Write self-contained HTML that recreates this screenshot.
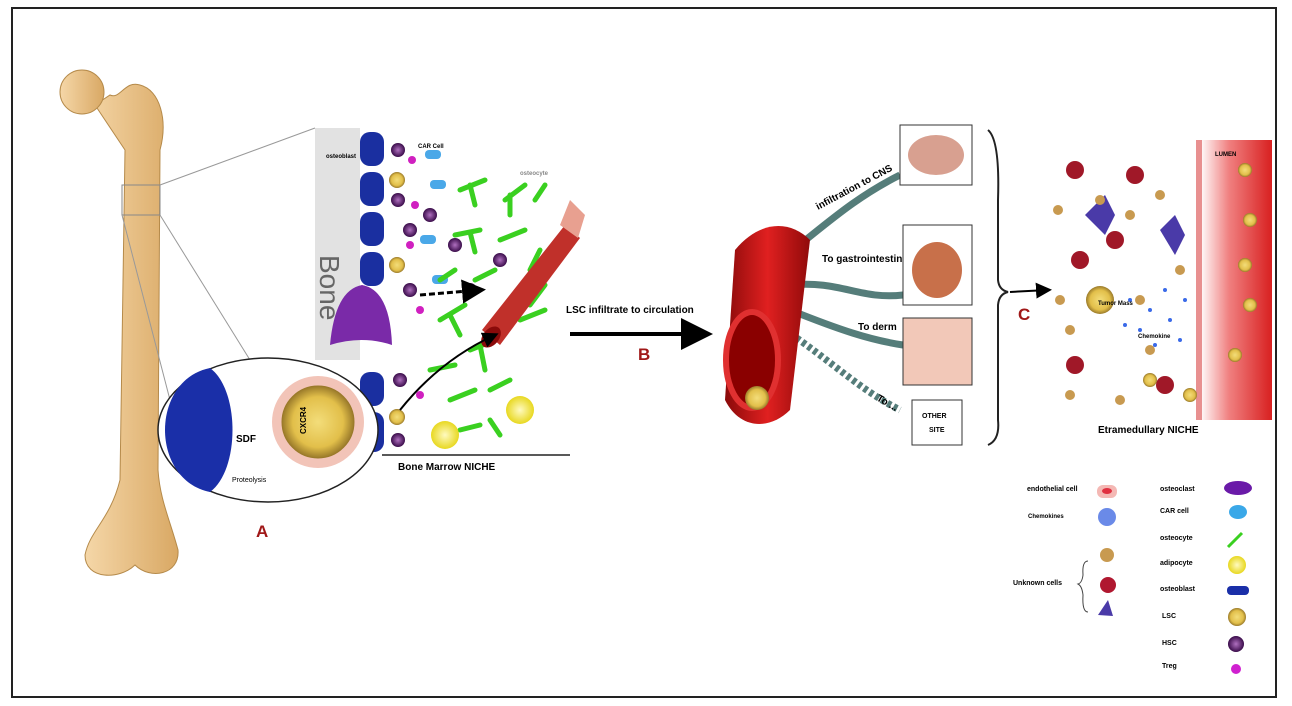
<!DOCTYPE html><html><head><style>body{margin:0;background:#fff}svg{display:block}text{font-family:"Liberation Sans",sans-serif;font-weight:bold}</style></head><body>
<svg width="1292" height="706" viewBox="0 0 1292 706">
<defs>
<radialGradient id="lsc"><stop offset="0" stop-color="#f3dd7a"/><stop offset=".7" stop-color="#e2bf4a"/><stop offset="1" stop-color="#9a7a2a"/></radialGradient>
<radialGradient id="hsc"><stop offset="0" stop-color="#b070c0"/><stop offset="1" stop-color="#3a0c4a"/></radialGradient>
<radialGradient id="adi"><stop offset="0" stop-color="#fffac0"/><stop offset="1" stop-color="#e8d820"/></radialGradient>
<linearGradient id="lum" x1="0" x2="1"><stop offset="0" stop-color="#fff"/><stop offset=".4" stop-color="#f08080"/><stop offset="1" stop-color="#d82020"/></linearGradient>
<linearGradient id="ves" x1="0" x2="1"><stop offset="0" stop-color="#8a0a0a"/><stop offset=".5" stop-color="#e02020"/><stop offset="1" stop-color="#900a0a"/></linearGradient>
<linearGradient id="bg" x1="0" x2="1"><stop offset="0" stop-color="#f5d7a8"/><stop offset="1" stop-color="#d9a864"/></linearGradient>
<marker id="ah" markerWidth="8" markerHeight="8" refX="6" refY="4" orient="auto"><path d="M0,0L8,4L0,8z" fill="#000"/></marker>
</defs>
<rect x="12" y="8" width="1264" height="689" fill="#fff" stroke="#222" stroke-width="2"/>
<g fill="url(#bg)" stroke="#b58a4a">
<path d="M95,105 L125,150 L120,480 C110,520 90,530 85,555 C85,580 120,580 135,565 C150,580 180,575 178,550 C170,520 160,500 158,470 L160,150 C168,120 160,90 140,85 C125,80 120,100 110,95Z"/>
<circle cx="82" cy="92" r="22"/>
</g>
<rect x="122" y="185" width="38" height="30" fill="none" stroke="#888"/>
<line x1="160" y1="185" x2="315" y2="128" stroke="#999"/><line x1="160" y1="215" x2="250" y2="360" stroke="#999"/><line x1="122" y1="215" x2="170" y2="400" stroke="#999"/>
<rect x="315" y="128" width="45" height="232" fill="#e2e2e2"/>
<text font-size="28" style="font-weight:normal" fill="#666" transform="translate(320,255) rotate(90)">Bone</text>
<g fill="#1a2fa0">
<rect x="360" y="132" width="24" height="34" rx="10"/><rect x="360" y="172" width="24" height="34" rx="10"/><rect x="360" y="212" width="24" height="34" rx="10"/><rect x="360" y="252" width="24" height="34" rx="10"/><rect x="360" y="372" width="24" height="34" rx="10"/><rect x="360" y="412" width="24" height="40" rx="10"/>
</g>
<path d="M330,345 Q335,290 362,285 Q390,290 392,345 Q362,335 330,345Z" fill="#7a2aa8"/>
<line x1="382" y1="455" x2="570" y2="455" stroke="#222" stroke-width="1.5"/>
<text x="398" y="470" font-size="10">Bone Marrow NICHE</text>
<text x="326" y="158" font-size="6">osteoblast</text><text x="418" y="148" font-size="6">CAR Cell</text><text x="520" y="175" font-size="6" fill="#888">osteocyte</text>
<g fill="url(#hsc)"><circle cx="398" cy="150" r="7"/><circle cx="398" cy="200" r="7"/><circle cx="410" cy="230" r="7"/><circle cx="410" cy="290" r="7"/><circle cx="430" cy="215" r="7"/><circle cx="455" cy="245" r="7"/><circle cx="470" cy="290" r="7"/><circle cx="400" cy="380" r="7"/><circle cx="398" cy="440" r="7"/><circle cx="500" cy="260" r="7"/></g>
<g fill="url(#lsc)"><circle cx="397" cy="180" r="8"/><circle cx="397" cy="265" r="8"/><circle cx="397" cy="417" r="8"/></g>
<g fill="#d020c0"><circle cx="412" cy="160" r="4"/><circle cx="415" cy="205" r="4"/><circle cx="410" cy="245" r="4"/><circle cx="420" cy="310" r="4"/><circle cx="420" cy="395" r="4"/></g>
<g fill="#4aa8e8"><rect x="425" y="150" width="16" height="9" rx="4"/><rect x="430" y="180" width="16" height="9" rx="4"/><rect x="420" y="235" width="16" height="9" rx="4"/><rect x="432" y="275" width="16" height="9" rx="4"/></g>
<g stroke="#3ad020" stroke-width="5" stroke-linecap="round">
<path d="M460,190l25,-10M470,185l5,20M505,200l20,-15M510,195l0,20M455,235l25,-5M470,232l5,20M500,240l25,-10M440,320l25,-15M450,315l10,20M470,350l25,-10M480,345l5,25M430,370l25,-5M450,400l25,-10M460,430l20,-5M490,390l20,-10M520,320l25,-10M540,250l-10,20M475,280l20,-10M535,200l10,-15M545,285l-15,20M455,270l-15,10M490,420l10,15"/></g>
<path d="M482,330 L565,225 L580,238 L500,345Z" fill="#c0302a"/>
<ellipse cx="491" cy="337" rx="8" ry="12" fill="#8a0a0a" transform="rotate(40 491 337)"/>
<path d="M560,225 L570,200 L585,215 L578,238Z" fill="#e8a090"/>
<circle cx="445" cy="435" r="14" fill="url(#adi)"/><circle cx="520" cy="410" r="14" fill="url(#adi)"/>
<path d="M420,295 L480,290" stroke="#000" stroke-width="3" marker-end="url(#ah)" stroke-dasharray="6 3"/>
<path d="M400,410 Q440,360 495,335" stroke="#000" stroke-width="2" fill="none" marker-end="url(#ah)"/>
<ellipse cx="268" cy="430" rx="110" ry="72" fill="#fff" stroke="#222" stroke-width="1.5"/>
<path d="M210,368 C150,380 150,480 210,492 C240,470 240,390 210,368Z" fill="#1a2fa8"/>
<circle cx="318" cy="422" r="46" fill="#f2c4b8"/>
<circle cx="318" cy="422" r="36" fill="url(#lsc)" stroke="#9a7a2a"/>
<text x="236" y="442" font-size="10">SDF</text><text x="232" y="482" font-size="7" style="font-weight:normal">Proteolysis</text>
<text x="292" y="440" font-size="8" transform="rotate(-90 296 430)">CXCR4</text>
<text x="256" y="537" font-size="17" fill="#a01818">A</text>
<text x="566" y="313" font-size="10">LSC infiltrate to circulation</text>
<line x1="570" y1="334" x2="705" y2="334" stroke="#000" stroke-width="4" marker-end="url(#ah)"/>
<text x="638" y="360" font-size="17" fill="#a01818">B</text>
<g fill="none" stroke-width="7">
<path d="M780,260 C820,230 850,200 900,175" stroke="#557d7a"/>
<path d="M790,285 C840,280 860,300 903,295" stroke="#557d7a"/>
<path d="M790,310 C840,330 870,340 903,345" stroke="#557d7a"/>
<path d="M785,330 C830,360 860,390 900,410" stroke="#557d7a" stroke-dasharray="4 3"/>
</g>
<path d="M735,250 C760,220 790,220 810,240 L790,410 C770,430 740,430 725,400Z" fill="url(#ves)"/>
<ellipse cx="752" cy="360" rx="26" ry="48" fill="#8a0000" stroke="#e03030" stroke-width="6"/>
<circle cx="757" cy="398" r="12" fill="url(#lsc)"/>
<text x="818" y="210" font-size="10" transform="rotate(-28 818 210)">infiltration to CNS</text>
<text x="822" y="262" font-size="10">To gastrointestinal</text>
<text x="858" y="330" font-size="10">To derm</text>
<text x="876" y="400" font-size="10" transform="rotate(30 876 400)">To ...</text>
<rect x="900" y="125" width="72" height="60" fill="#fff" stroke="#333"/><ellipse cx="936" cy="155" rx="28" ry="20" fill="#d8a090"/>
<rect x="903" y="225" width="69" height="80" fill="#fff" stroke="#333"/><ellipse cx="937" cy="270" rx="25" ry="28" fill="#c8704a"/>
<rect x="903" y="318" width="69" height="67" fill="#f2c8b8" stroke="#333"/>
<rect x="912" y="400" width="50" height="45" fill="#fff" stroke="#333"/>
<text x="922" y="418" font-size="7">OTHER</text><text x="929" y="432" font-size="7">SITE</text>
<path d="M988,130 Q1000,140 998,200 L998,280 Q999,290 1008,292 Q999,294 998,305 L998,420 Q1000,440 988,445" fill="none" stroke="#222" stroke-width="2"/>
<line x1="1010" y1="292" x2="1048" y2="290" stroke="#000" stroke-width="2" marker-end="url(#ah)"/>
<text x="1018" y="320" font-size="17" fill="#a01818">C</text>
<rect x="1200" y="140" width="72" height="280" fill="url(#lum)"/>
<rect x="1196" y="140" width="6" height="280" fill="#e89090"/>
<text x="1215" y="156" font-size="6">LUMEN</text>
<g fill="#a01828"><circle cx="1075" cy="170" r="9"/><circle cx="1135" cy="175" r="9"/><circle cx="1080" cy="260" r="9"/><circle cx="1115" cy="240" r="9"/><circle cx="1075" cy="365" r="9"/><circle cx="1165" cy="385" r="9"/></g>
<g fill="#4a3aa8"><path d="M1085,215l20,-20l10,20l-10,20z"/><path d="M1160,230l15,-15l10,20l-10,20z"/></g>
<g fill="#c89a50"><circle cx="1058" cy="210" r="5"/><circle cx="1100" cy="200" r="5"/><circle cx="1160" cy="195" r="5"/><circle cx="1130" cy="215" r="5"/><circle cx="1060" cy="300" r="5"/><circle cx="1070" cy="330" r="5"/><circle cx="1140" cy="300" r="5"/><circle cx="1150" cy="350" r="5"/><circle cx="1070" cy="395" r="5"/><circle cx="1120" cy="400" r="5"/><circle cx="1180" cy="270" r="5"/></g>
<g fill="url(#lsc)"><circle cx="1100" cy="300" r="14"/><circle cx="1245" cy="170" r="7"/><circle cx="1250" cy="220" r="7"/><circle cx="1245" cy="265" r="7"/><circle cx="1250" cy="305" r="7"/><circle cx="1235" cy="355" r="7"/><circle cx="1150" cy="380" r="7"/><circle cx="1190" cy="395" r="7"/></g>
<g fill="#3a6ae8"><circle cx="1130" cy="300" r="2"/><circle cx="1150" cy="310" r="2"/><circle cx="1165" cy="290" r="2"/><circle cx="1140" cy="330" r="2"/><circle cx="1170" cy="320" r="2"/><circle cx="1180" cy="340" r="2"/><circle cx="1155" cy="345" r="2"/><circle cx="1125" cy="325" r="2"/><circle cx="1185" cy="300" r="2"/></g>
<text x="1098" y="305" font-size="6">Tumor Mass</text><text x="1138" y="338" font-size="6">Chemokine</text>
<text x="1098" y="433" font-size="10">Etramedullary NICHE</text>
<g font-size="7">
<text x="1027" y="491">endothelial cell</text><rect x="1097" y="485" width="20" height="13" rx="6" fill="#f4b8b4"/><ellipse cx="1107" cy="491" rx="5" ry="3" fill="#e03040"/>
<text x="1028" y="518" font-size="6">Chemokines</text><circle cx="1107" cy="517" r="9" fill="#6a8ae8"/>
<text x="1013" y="585">Unknown cells</text><path d="M1088,561 Q1082,561 1083,575 Q1082,583 1078,584 Q1082,586 1083,595 Q1082,612 1088,612" fill="none" stroke="#444"/>
<circle cx="1107" cy="555" r="7" fill="#c89a50"/><circle cx="1108" cy="585" r="8" fill="#b01830"/><path d="M1098,615l10,-15l5,16z" fill="#4a3aa8"/>
<text x="1160" y="491">osteoclast</text><ellipse cx="1238" cy="488" rx="14" ry="7" fill="#6a1aa8"/>
<text x="1160" y="513">CAR cell</text><ellipse cx="1238" cy="512" rx="9" ry="7" fill="#3aa8e8"/>
<text x="1160" y="540">osteocyte</text><path d="M1228,547l14,-14" stroke="#3ad020" stroke-width="3"/>
<text x="1160" y="565">adipocyte</text><circle cx="1237" cy="565" r="9" fill="url(#adi)"/>
<text x="1160" y="591">osteoblast</text><rect x="1227" y="586" width="22" height="9" rx="4" fill="#1a2fa8"/>
<text x="1162" y="618">LSC</text><circle cx="1237" cy="617" r="9" fill="url(#lsc)"/>
<text x="1162" y="645">HSC</text><circle cx="1236" cy="644" r="8" fill="url(#hsc)"/>
<text x="1162" y="668">Treg</text><circle cx="1236" cy="669" r="5" fill="#d020d0"/>
</g>
</svg></body></html>
